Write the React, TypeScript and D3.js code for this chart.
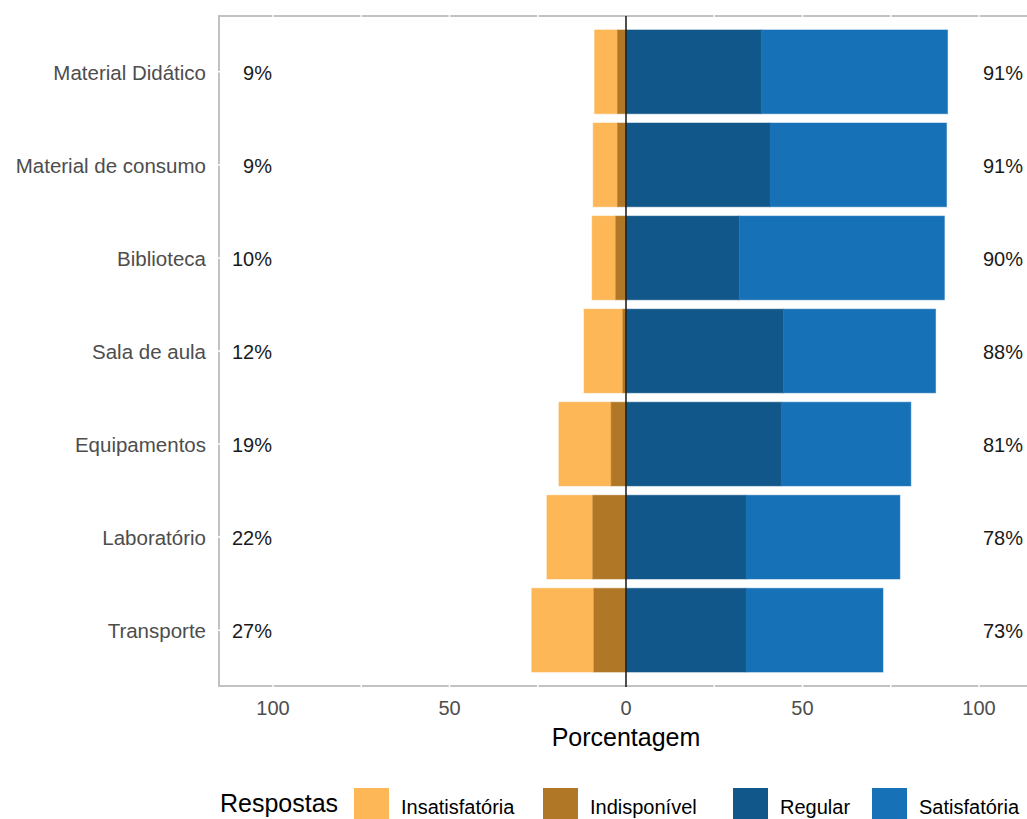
import React from "react";
import * as d3 from "d3";

const categories = [
  "Material Didático",
  "Material de consumo",
  "Biblioteca",
  "Sala de aula",
  "Equipamentos",
  "Laboratório",
  "Transporte",
];
const insatisfatoria = [6.5, 6.9, 6.7, 11.0, 14.8, 13.0, 17.6];
const indisponivel = [2.4, 2.4, 2.9, 0.9, 4.2, 9.4, 9.1];
const regular = [38.4, 40.8, 32.1, 44.6, 44.1, 34.0, 34.0];
const satisfatoria = [52.7, 50.0, 58.1, 43.1, 36.6, 43.6, 38.8];
const xTicks = [-100, -50, 0, 50, 100];
const xMinor = [-100, -75, -50, -25, 25, 50, 75, 100];
const legendLabels = ["Insatisfatória", "Indisponível", "Regular", "Satisfatória"];
const colors = ["#FDB756", "#B07726", "#12578A", "#1771B7"];

const W = 1027;
const H = 819;
const panel = { left: 219, right: 1033, top: 16, bottom: 686 };
const font = "'Liberation Sans', Arial, sans-serif";

export default function App() {
  const x = d3.scaleLinear().domain([-115.3, 115.3]).range([panel.left, panel.right]);
  const y = d3
    .scaleBand<string>()
    .domain(categories)
    .range([panel.top, panel.bottom])
    .paddingInner(0.1)
    .paddingOuter(0.15);
  const bw = y.bandwidth();
  const fmt = (v: number) => `${Math.round(v)}%`;

  const bars: { key: string; x0: number; x1: number; y: number; color: string }[] = [];
  categories.forEach((c, i) => {
    const yy = y(c)!;
    const ind = indisponivel[i];
    const ins = insatisfatoria[i];
    bars.push({ key: c + "ins", x0: -(ind + ins), x1: -ind, y: yy, color: colors[0] });
    bars.push({ key: c + "ind", x0: -ind, x1: 0, y: yy, color: colors[1] });
    bars.push({ key: c + "reg", x0: 0, x1: regular[i], y: yy, color: colors[2] });
    bars.push({
      key: c + "sat",
      x0: regular[i],
      x1: regular[i] + satisfatoria[i],
      y: yy,
      color: colors[3],
    });
  });

  const legendKeyX = [354, 543, 733, 872];

  return (
    <svg
      width={W}
      height={H}
      style={{ position: "absolute", left: 0, top: 0, background: "#fff" }}
      fontFamily={font}
    >
      <rect x={0} y={0} width={W} height={H} fill="#fff" />
      {/* panel border */}
      <rect
        x={panel.left}
        y={panel.top}
        width={panel.right - panel.left}
        height={panel.bottom - panel.top}
        fill="#fff"
        stroke="#c2c2c2"
        strokeWidth={2}
      />
      {/* white grid lines */}
      {xMinor.map((t) => (
        <line
          key={"gx" + t}
          x1={x(t)}
          x2={x(t)}
          y1={panel.top - 2}
          y2={panel.bottom + 2}
          stroke="#fff"
          strokeWidth={1.5}
        />
      ))}
      {categories.map((c) => (
        <line
          key={"gy" + c}
          x1={panel.left - 2}
          x2={panel.right + 2}
          y1={y(c)! + bw / 2}
          y2={y(c)! + bw / 2}
          stroke="#fff"
          strokeWidth={1.5}
        />
      ))}
      {/* bars */}
      {bars.map((b) => (
        <rect
          key={b.key}
          x={x(b.x0)}
          y={b.y}
          width={x(b.x1) - x(b.x0)}
          height={bw}
          fill={b.color}
          stroke={b.color}
          strokeOpacity={0.5}
          strokeWidth={1}
        />
      ))}
      {/* zero line */}
      <line x1={x(0)} x2={x(0)} y1={panel.top} y2={panel.bottom + 1} stroke="#222" strokeWidth={1.6} />
      {/* percentage labels */}
      {categories.map((c, i) => (
        <g key={"pl" + c}>
          <text
            x={272}
            y={y(c)! + bw / 2 + 8}
            textAnchor="end"
            fontSize={20}
            fill="#1a1a1a"
          >
            {fmt(insatisfatoria[i] + indisponivel[i])}
          </text>
          <text x={983} y={y(c)! + bw / 2 + 8} textAnchor="start" fontSize={20} fill="#1a1a1a">
            {fmt(regular[i] + satisfatoria[i])}
          </text>
        </g>
      ))}
      {/* y axis labels */}
      {categories.map((c) => (
        <text
          key={"yl" + c}
          x={206}
          y={y(c)! + bw / 2 + 8}
          textAnchor="end"
          fontSize={20.5}
          fill="#4d4d4d"
        >
          {c}
        </text>
      ))}
      {/* x axis labels */}
      {xTicks.map((t) => (
        <text key={"xl" + t} x={x(t)} y={715} textAnchor="middle" fontSize={20} fill="#4d4d4d">
          {Math.abs(t)}
        </text>
      ))}
      <text x={x(0)} y={746} textAnchor="middle" fontSize={25} fill="#000">
        Porcentagem
      </text>
      {/* legend */}
      <text x={220} y={812} fontSize={25} fill="#000">
        Respostas
      </text>
      {legendLabels.map((l, i) => (
        <g key={"lg" + l}>
          <rect x={legendKeyX[i]} y={788} width={35} height={36} fill={colors[i]} />
          <text x={legendKeyX[i] + 47} y={814} fontSize={20} fill="#000">
            {l}
          </text>
        </g>
      ))}
    </svg>
  );
}
